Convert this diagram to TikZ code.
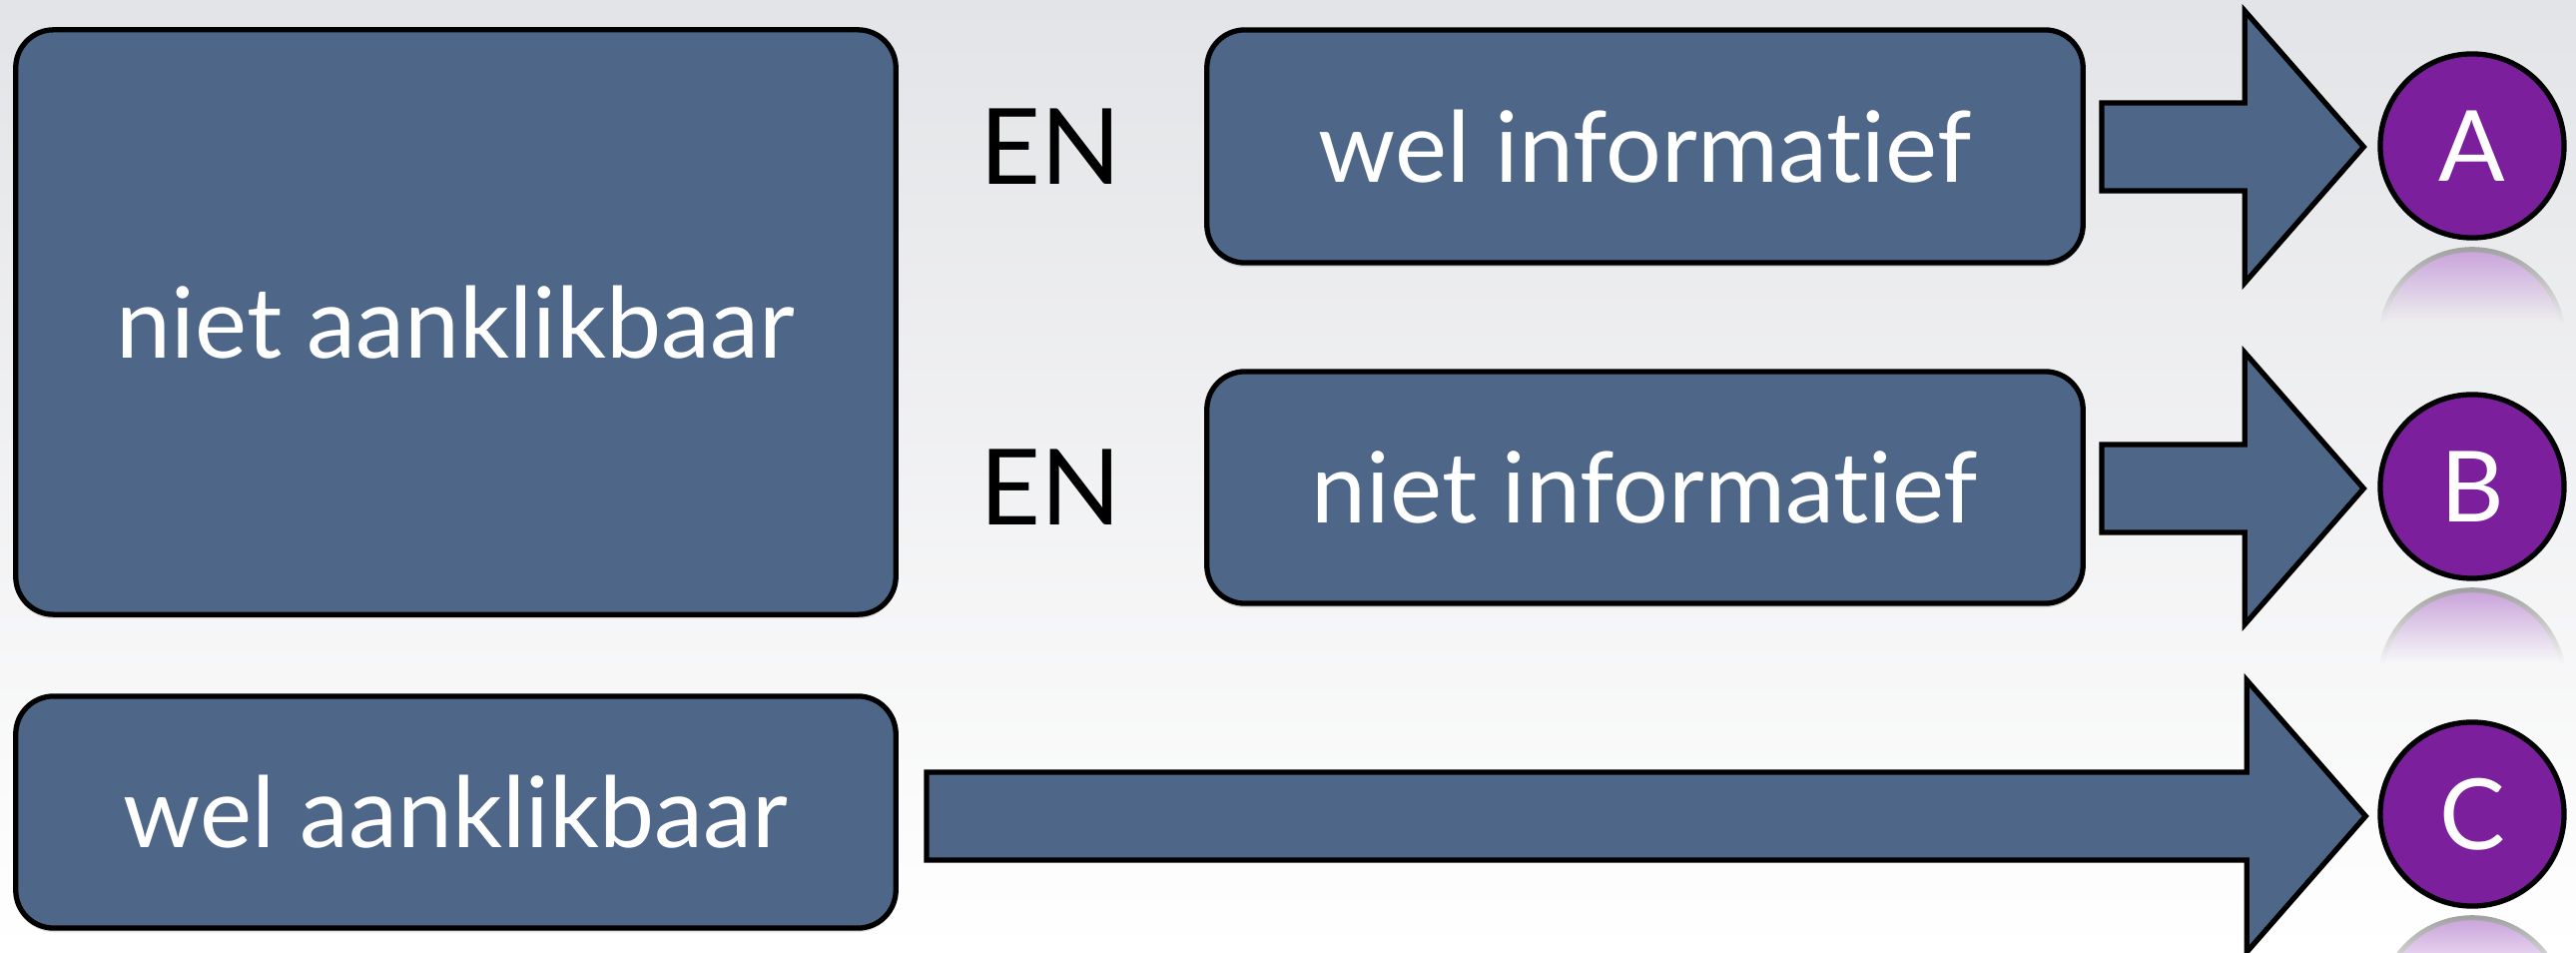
\documentclass[tikz,border=0pt]{standalone}
\usepackage{fontspec}
\setmainfont{Lato}[Ligatures={NoCommon}]
\usetikzlibrary{calc,shadows}
\definecolor{boxblue}{HTML}{4E6788}
\definecolor{circpurple}{HTML}{7B1F9D}
\definecolor{bgtop}{HTML}{E3E4E7}
\definecolor{reflpurple}{HTML}{C9A2DB}
\newcommand\blockarrow[2]{%
  \draw[blockarr] ($(#1)+(0,44)$) -- ($(#2)+(-119,44)$) -- ($(#2)+(-119,136)$) -- (#2)
    -- ($(#2)+(-119,-136)$) -- ($(#2)+(-119,-44)$) -- ($(#1)+(0,-44)$) -- cycle;}
% #1 circle node, #2 background colour below it
\newcommand\reflection[2]{%
  \coordinate (#1rc) at ($(#1.south)+(0,-101)$);
  \begin{scope}
    \clip ($(#1.south)+(-110,-6)$) rectangle ($(#1.south)+(110,-84)$);
    \begin{scope}
      \clip (#1rc) circle (90);
      \shade[top color=reflpurple, bottom color=#2] ($(#1.south)+(-100,-9)$) rectangle ($(#1.south)+(100,-80)$);
    \end{scope}
    \begin{scope}[even odd rule]
      \clip (#1rc) circle (94.5) (#1rc) circle (89.5);
      \shade[top color=gray!75, bottom color=#2] ($(#1.south)+(-100,-6)$) rectangle ($(#1.south)+(100,-82)$);
    \end{scope}
  \end{scope}}
\begin{document}
\begin{tikzpicture}[x=0.01cm,y=0.01cm,
  card/.style={draw=black, line width=1.5pt, fill=boxblue, rounded corners=0.38cm,
    text=white, font=\fontsize{28}{32}\selectfont, inner sep=0pt,
    drop shadow={opacity=0.22, shadow xshift=0pt, shadow yshift=-1.2pt}},
  disc/.style={circle, draw=black, line width=1.5pt, fill=circpurple, minimum size=1.84cm,
    inner sep=0pt, text=white, font=\fontsize{28}{32}\selectfont},
  conj/.style={text=black, font=\fontsize{30}{34}\selectfont, inner sep=0pt},
  blockarr/.style={draw=black, line width=1.5pt, fill=boxblue, line join=miter}]
\useasboundingbox (0,0) rectangle (2580,954);
\shade[top color=bgtop, bottom color=white] (0,0) rectangle (2580,954);

% boxes
\node[card, minimum width=8.81cm, minimum height=5.85cm] (na) at (456.5,631.5) {niet aanklikbaar};
\node[card, minimum width=8.81cm, minimum height=2.32cm] (wa) at (456.5,141) {wel aanklikbaar};
\node[card, minimum width=8.77cm, minimum height=2.33cm] (wi) at (1647.5,807.5) {wel informatief};
\node[card, minimum width=8.77cm, minimum height=2.32cm] (ni) at (1647.5,466) {niet informatief};

% conjunctions
\node[conj] (en1) at (1052,807) {EN};
\node[conj] (en2) at (1052,466) {EN};

% result circles
\node[disc] (cA) at (2476,808) {A};
\node[disc] (cB) at (2476,467) {B};
\node[disc] (cC) at (2476,139) {C};

% reflections
\reflection{cA}{bgtop!70!white}
\reflection{cB}{bgtop!36!white}
\reflection{cC}{bgtop!4!white}

% block arrows
\coordinate (tA) at ($(cA.west)+(-14,-1)$);
\coordinate (sA) at ($(wi.east |- tA)+(16,0)$);
\coordinate (tB) at ($(cB.west)+(-14,-2)$);
\coordinate (sB) at ($(ni.east |- tB)+(16,0)$);
\coordinate (tC) at ($(cC.west)+(-12,-2)$);
\coordinate (sC) at ($(wa.east |- tC)+(28,0)$);
\blockarrow{sA}{tA}
\blockarrow{sB}{tB}
\blockarrow{sC}{tC}
\end{tikzpicture}
\end{document}
